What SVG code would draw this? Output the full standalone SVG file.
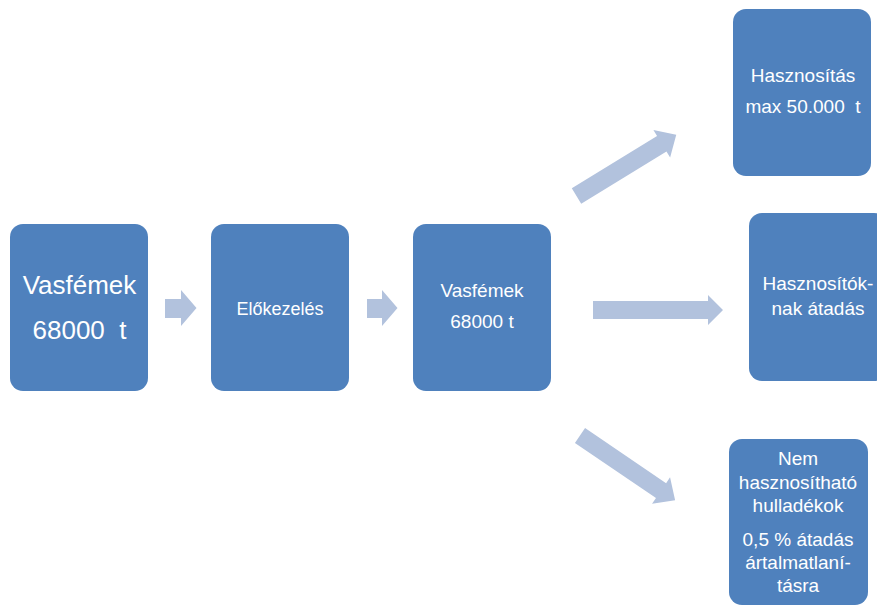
<svg xmlns="http://www.w3.org/2000/svg" width="877" height="606" viewBox="0 0 877 606">
<style>
.box{fill:#4F81BD;}
.arr{fill:#B2C2DD;}
text{font-family:"Liberation Sans",Arial,sans-serif;fill:#FFFFFF;text-anchor:middle;white-space:pre;}
.t19{font-size:19px;}
</style>
<rect width="877" height="606" fill="#FFFFFF"/>
<g id="connectors">
<path class="arr" d="M165,299 H181 V290 L196.5,308 L181,326 V318 H165 Z"/>
<path class="arr" d="M367,299 H382 V290 L397.5,308 L382,326 V318 H367 Z"/>
<path class="arr" d="M593,301 H708 V295 L723,310 L708,325 V319 H593 Z"/>
<path class="arr" transform="translate(576.5,196) rotate(-31.5)" d="M0,-9 H100 V-16 L117,0 L100,16 V9 H0 Z"/>
<path class="arr" transform="translate(580,435.5) rotate(34.2)" d="M0,-9 H98 V-16 L115,0 L98,16 V9 H0 Z"/>
</g>
<g id="node-vasfemek-input">
<rect class="box" x="10" y="224" width="138" height="167" rx="13"/>
<text x="79.5" y="294" style="font-size:26px">Vasfémek</text>
<text x="79.5" y="339" style="font-size:26px">68000  t</text>
</g>
<g id="node-elokezeles">
<rect class="box" x="211" y="224" width="138" height="167" rx="13"/>
<text x="280" y="315" style="font-size:18px">Előkezelés</text>
</g>
<g id="node-vasfemek">
<rect class="box" x="413" y="224" width="138" height="167" rx="13"/>
<text class="t19" x="482" y="297">Vasfémek</text>
<text class="t19" x="482" y="328">68000 t</text>
</g>
<g id="node-hasznositas">
<rect class="box" x="733" y="9" width="138" height="167" rx="13"/>
<text class="t19" x="803" y="82">Hasznosítás</text>
<text class="t19" x="803" y="113">max 50.000  t</text>
</g>
<g id="node-hasznositoknak">
<rect class="box" x="749" y="213" width="138" height="168" rx="13"/>
<text class="t19" x="818" y="290">Hasznosítók-</text>
<text class="t19" x="818" y="315">nak átadás</text>
</g>
<g id="node-nem-hasznosithato">
<rect class="box" x="729" y="439" width="139" height="166" rx="13"/>
<text class="t19" x="798" y="465">Nem</text>
<text class="t19" x="798" y="489">hasznosítható</text>
<text class="t19" x="798" y="512">hulladékok</text>
<text class="t19" x="798" y="546">0,5 % átadás</text>
<text class="t19" x="798" y="569">ártalmatlaní-</text>
<text class="t19" x="798" y="592">tásra</text>
</g>
</svg>
